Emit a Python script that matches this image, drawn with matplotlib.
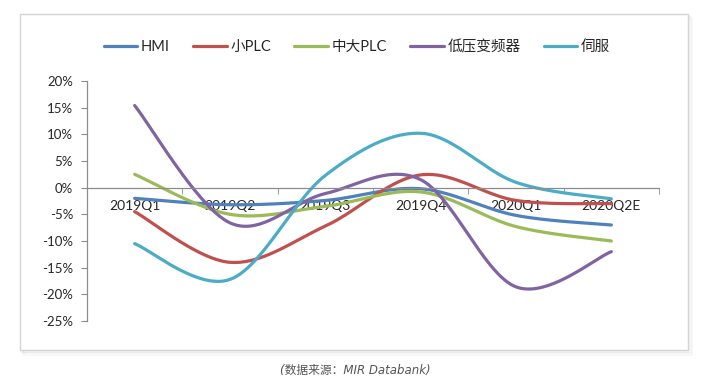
import numpy as np
import matplotlib
matplotlib.use("Agg")
import matplotlib.pyplot as plt
from matplotlib.patches import Rectangle
from matplotlib.ticker import FuncFormatter, FixedLocator

plt.rcParams['font.family'] = ['Lato', 'Noto Sans CJK SC', 'DejaVu Sans']

categories = ["2019Q1", "2019Q2", "2019Q3", "2019Q4", "2020Q1", "2020Q2E"]
series_names = ["HMI", "小PLC", "中大PLC", "低压变频器", "伺服"]
hmi = [-2.0, -3.2, -2.4, -0.2, -5.2, -7.0]
small_plc = [-4.5, -14.0, -7.2, 2.4, -2.4, -3.0]
mid_plc = [2.5, -5.0, -3.5, -0.8, -7.3, -10.0]
lv_drive = [15.4, -6.6, -1.1, 1.5, -18.6, -12.0]
servo = [-10.5, -17.2, 2.3, 10.2, 1.0, -2.1]
colors = ["#4F81BD", "#C0504D", "#9BBB59", "#8064A2", "#4BACC6"]
caption = "(数据来源：MIR Databank)"


def smooth(xs, ys, n=40):
    # Excel-style smoothed line (cardinal/Catmull-Rom bezier)
    xs = np.asarray(xs, float)
    ys = np.asarray(ys, float)
    P = np.column_stack([xs, ys])
    out = []
    for i in range(len(P) - 1):
        p0 = P[i - 1] if i > 0 else P[i]
        p1 = P[i]
        p2 = P[i + 1]
        p3 = P[i + 2] if i + 2 < len(P) else P[i + 1]
        c1 = p1 + (p2 - p0) / 6.0
        c2 = p2 - (p3 - p1) / 6.0
        t = np.linspace(0, 1, n)[:, None]
        seg = ((1 - t) ** 3) * p1 + 3 * ((1 - t) ** 2) * t * c1 + 3 * (1 - t) * t ** 2 * c2 + t ** 3 * p2
        out.append(seg if i == 0 else seg[1:])
    S = np.vstack(out)
    return S[:, 0], S[:, 1]


fig = plt.figure(figsize=(7.13, 3.85), dpi=100)
fig.patch.set_facecolor("white")

# chart box with soft shadow
for k, a in enumerate([0.05, 0.04, 0.03]):
    fig.patches.append(Rectangle((20 / 713 + (k + 1) * 0.002, 35 / 385 - (k + 1) * 0.004),
                                 668 / 713, 336 / 385, transform=fig.transFigure,
                                 facecolor="none", edgecolor=(0, 0, 0, a), lw=1.2, zorder=-2))
fig.patches.append(Rectangle((20 / 713, 35 / 385), 668 / 713, 336 / 385, transform=fig.transFigure,
                             facecolor="white", edgecolor="#d4d4d4", lw=1.0, zorder=-1))

ax = fig.add_axes([87 / 713, 1 - 321 / 385, 572 / 713, 240 / 385])
ax.set_facecolor("none")
ax.set_zorder(2)

xs = np.arange(len(categories))
all_series = [hmi, small_plc, mid_plc, lv_drive, servo]
for name, vals, c in zip(series_names, all_series, colors):
    sx, sy = smooth(xs, vals)
    ax.plot(sx, sy, color=c, lw=2.3, label=name, solid_capstyle="round")

ax.set_xlim(-0.5, len(categories) - 0.5)
ax.set_ylim(-25, 20)
ax.set_yticks(np.arange(-25, 21, 5))
ax.yaxis.set_major_formatter(FuncFormatter(lambda v, p: f"{int(round(v))}%"))

ax.spines['top'].set_visible(False)
ax.spines['right'].set_visible(False)
ax.spines['bottom'].set_position(('data', 0))
for s in ['left', 'bottom']:
    ax.spines[s].set_color("#8c8c8c")
    ax.spines[s].set_linewidth(0.9)

ax.set_xticks(xs)
ax.set_xticklabels(categories)
ax.xaxis.set_minor_locator(FixedLocator(np.arange(0.5, len(categories), 1.0)))
ax.tick_params(axis='x', which='major', length=0, pad=9, labelsize=10, labelcolor="#262626")
ax.tick_params(axis='x', which='minor', length=4, color="#8c8c8c", direction='out')
ax.tick_params(axis='y', length=4, color="#8c8c8c", labelsize=9.5, labelcolor="#262626", pad=6)

leg = fig.legend(loc="center", bbox_to_anchor=(357 / 713, 1 - 47 / 385), ncol=5, frameon=False,
                 fontsize=10.5, handlelength=2.3, handletextpad=0.25, columnspacing=1.6,
                 labelcolor="#262626")

fig.text(355 / 713, 1 - 370 / 385, caption, ha="center", va="center", fontsize=8.5,
         style="italic", color="#555555", family=['DejaVu Sans', 'Noto Sans CJK SC'])

fig.savefig("out.png", dpi=100, facecolor="white")
